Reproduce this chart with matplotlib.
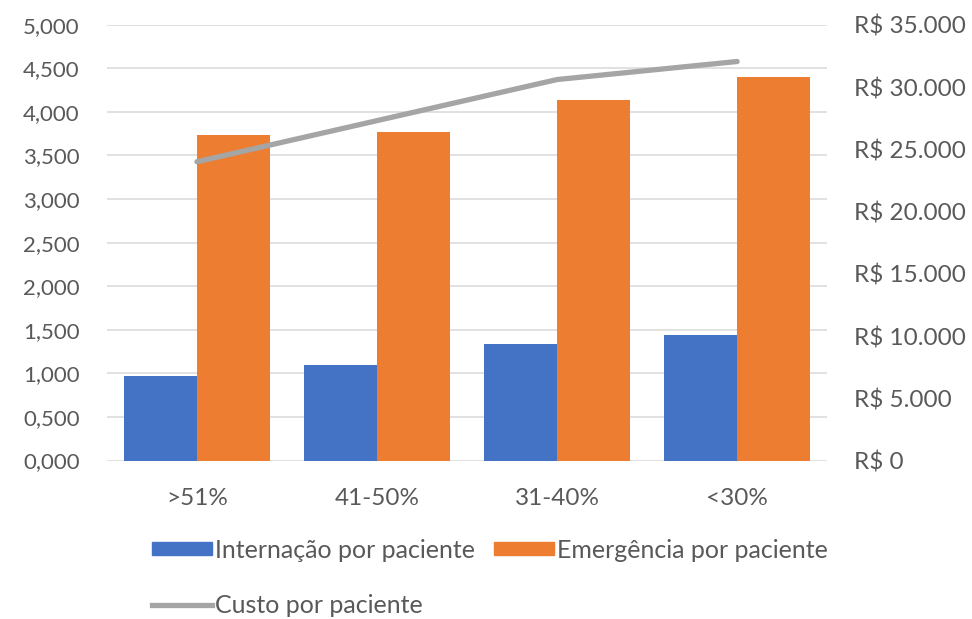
import matplotlib.pyplot as plt
import numpy as np
from matplotlib.lines import Line2D
from matplotlib.patches import Patch

# data
categorias = [">51%", "41-50%", "31-40%", "<30%"]
internacao = [0.97, 1.10, 1.34, 1.44]
emergencia = [3.74, 3.77, 4.14, 4.40]
custo = [24000, 27300, 30600, 32050]

azul = "#4472c4"
laranja = "#ed7d31"
cinza = "#a5a5a5"
texto = "#595959"

plt.rcParams['font.family'] = ['Lato', 'DejaVu Sans']

fig = plt.figure(figsize=(9.72, 6.19), dpi=100)
ax = fig.add_axes([0.110, 0.256, 0.741, 0.704])
ax2 = ax.twinx()

x = np.arange(len(categorias))
w = 0.405
ax.bar(x - w/2, internacao, w, color=azul, zorder=2)
ax.bar(x + w/2, emergencia, w, color=laranja, zorder=2)
ax2.plot(x, custo, color=cinza, lw=3.8, solid_capstyle='round', zorder=3)

ax.set_xlim(-0.5, 3.5)
ax.set_ylim(0, 5)
ax.set_yticks(np.arange(0, 5.01, 0.5))
ax.set_yticklabels([("%.3f" % v).replace(".", ",") for v in np.arange(0, 5.01, 0.5)])
ax2.set_ylim(0, 35000)
ax2.set_yticks(np.arange(0, 35001, 5000))
ax2.set_yticklabels(["R$ 0" if v == 0 else "R$ " + format(v, ",").replace(",", ".")
                     for v in range(0, 35001, 5000)])
ax.set_xticks(x)
ax.set_xticklabels(categorias)

ax.grid(axis='y', color="#d9d9d9", lw=1.1, zorder=0)
ax.set_axisbelow(True)
for a in (ax, ax2):
    for s in a.spines.values():
        s.set_visible(False)
    a.tick_params(length=0, labelcolor=texto)
ax.tick_params(axis='y', pad=19.5, labelsize=16)
ax2.tick_params(axis='y', pad=19.5, labelsize=17.5)
ax.tick_params(axis='x', pad=20, labelsize=17.5)

handles = [Patch(color=azul), Line2D([], [], color=cinza, lw=3.8),
           Patch(color=laranja)]
labels = ["Internação por paciente", "Custo por paciente", "Emergência por paciente"]
leg = fig.legend(handles, labels, ncol=2, loc='upper left', bbox_to_anchor=(0.156, 0.130),
                 frameon=False, fontsize=18, labelcolor=texto, handlelength=2.4,
                 handleheight=0.4, handletextpad=0.12, columnspacing=0.76,
                 labelspacing=1.28, borderpad=0, borderaxespad=0)

fig.savefig("out.png", dpi=100)
